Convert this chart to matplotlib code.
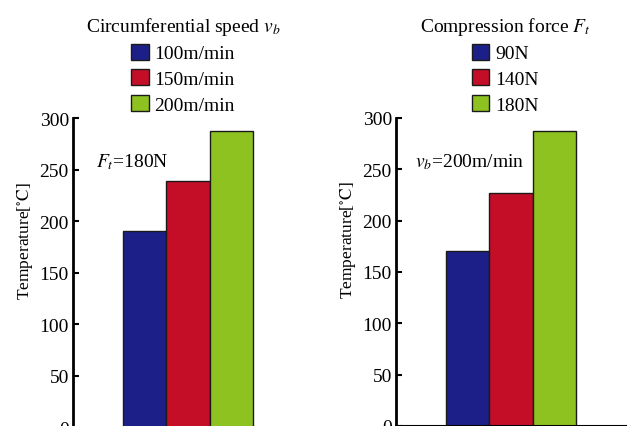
import matplotlib
matplotlib.use("Agg")
import matplotlib.pyplot as plt
from matplotlib.patches import Patch

plt.rcParams['font.family'] = ['Liberation Serif', 'DejaVu Serif']
plt.rcParams['mathtext.fontset'] = 'stix'

# data
speed_labels = ["100m/min", "150m/min", "200m/min"]
speed_temps = [190, 239, 287]
force_labels = ["90N", "140N", "180N"]
force_temps = [170, 227, 287]
bar_colors = ["#1c1f87", "#c40e27", "#8ec220"]
yticks = [0, 50, 100, 150, 200, 250, 300]

fig = plt.figure(figsize=(6.28, 4.27), dpi=100)

# axes positions in figure fraction (matched to pixel positions)
ax_w = 230 / 628
ax_left = fig.add_axes([73 / 628, -1.5 / 427, ax_w, 309.5 / 427])
ax_right = fig.add_axes([396 / 628, 0.0, ax_w, 308 / 427])


def draw_panel(ax, temps, labels, title, note, note_x, legend_x):
    xs = range(len(temps))
    ax.bar(xs, temps, width=1.0, color=bar_colors, edgecolor="#1a1a1a", linewidth=1.0)
    ax.set_xlim(-1.65, 3.65)
    ax.set_ylim(0, 300)
    ax.set_yticks(yticks)
    ax.set_xticks([])
    ax.tick_params(axis="y", direction="in", length=4, width=1.5, labelsize=14, pad=3)
    for side in ("top", "right"):
        ax.spines[side].set_visible(False)
    ax.spines["left"].set_linewidth(2)
    ax.spines["bottom"].set_linewidth(1.5)
    ax.set_ylabel("Temperature[$\\mathrm{{}^{\\circ}C}$]", fontsize=12.5)
    ax.yaxis.set_label_coords(-0.165, 0.607)
    ax.text(note_x, 258, note, fontsize=14, va="center", ha="left")

    handles = [Patch(facecolor=c, edgecolor="#1a1a1a", linewidth=1.0) for c in bar_colors]
    leg = fig.legend(handles, labels, title=title, loc="upper center",
                     bbox_to_anchor=(legend_x / 628, 1 - 8 / 427), frameon=False,
                     fontsize=14, title_fontsize=14, handlelength=0.9, handleheight=0.9,
                     labelspacing=0.35, handletextpad=0.3, borderaxespad=0)
    return leg


draw_panel(ax_left, speed_temps, speed_labels, "Circumferential speed $v_b$",
           "$F_t$=180N", -1.12, 183)
draw_panel(ax_right, force_temps, force_labels, "Compression force $F_t$",
           "$v_b$=200m/min", -1.21, 505)

fig.savefig("out.png", dpi=100)
